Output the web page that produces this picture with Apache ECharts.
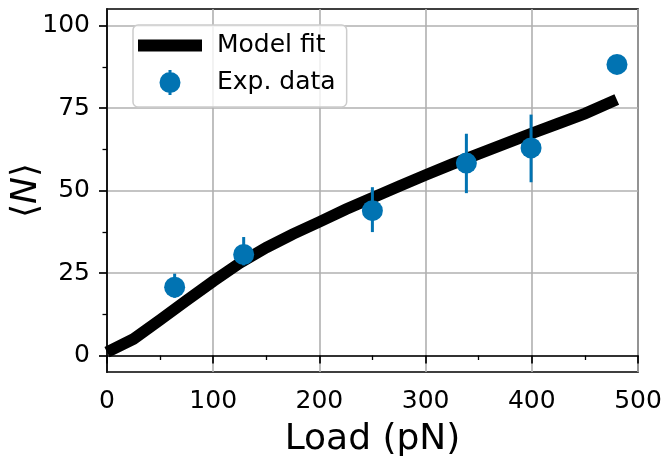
<!DOCTYPE html>
<html>
<head>
<meta charset="utf-8">
<script src="https://cdn.jsdelivr.net/npm/echarts@6/dist/echarts.min.js"></script>
<style>
html, body { margin: 0; padding: 0; background: #fff; }
#chart { width: 666px; height: 458px; }
</style>
</head>
<body>
<div id="chart"></div>
<script>
// Model fit curve
const fitLoad = [0, 25, 50, 75, 100, 125, 150, 175, 200, 225, 250, 275, 300, 325, 350, 375, 400, 425, 450, 480];
const fitN    = [1.0, 5.0, 10.8, 16.7, 22.5, 28.0, 32.7, 36.8, 40.5, 44.3, 47.8, 51.3, 54.7, 58.0, 61.1, 64.2, 67.3, 70.3, 73.3, 77.6];

// Experimental data with error bars
const expLoad = [63.7, 128.7, 249.9, 338.4, 399.3, 480.2];
const expN    = [20.7, 30.6, 43.9, 58.3, 62.9, 88.2];
const expLow  = [17.5, 27.3, 37.4, 49.2, 52.5, 88.2];
const expHigh = [24.8, 35.9, 51.0, 67.2, 73.0, 88.2];

// Axis ticks
const xTicks = [0, 100, 200, 300, 400, 500];
const yTicks = [0, 25, 50, 75, 100];
const yMinorTicks = [12.5, 37.5, 62.5, 87.5];

const BLUE = '#0173B2';
const FONT = 'DejaVu Sans';

const chart = echarts.init(document.getElementById('chart'), null, { renderer: 'canvas' });

const fitData = fitLoad.map((x, i) => [x, fitN[i]]);
const expData = expLoad.map((x, i) => [x, expN[i]]);
const errData = expLoad.map((x, i) => [x, expLow[i], expHigh[i]]);

const option = {
  animation: false,
  backgroundColor: '#fff',
  textStyle: { fontFamily: FONT, color: '#000' },
  grid: {
    left: 107, right: 28, top: 9, bottom: 86,
    containLabel: false, outerBoundsMode: 'none',
    show: true, borderColor: '#000', borderWidth: 1.7, backgroundColor: 'transparent'
  },
  legend: {
    left: 133, top: 25,
    orient: 'vertical',
    padding: [8, 11, 12, 5],
    itemWidth: 74, itemHeight: 25, itemGap: 12,
    backgroundColor: 'rgba(255,255,255,0.8)',
    borderColor: '#cccccc', borderWidth: 1.5, borderRadius: 5,
    textStyle: { fontFamily: FONT, fontSize: 25, color: '#000', lineHeight: 25 },
    symbolKeepAspect: true,
    data: [
      { name: 'Model fit',
        icon: 'path://M0,-6H64V6H0Z M0,-12.5L0.01,-12.5 M74,12.5L73.99,12.5',
        itemStyle: { color: '#000' } },
      { name: 'Exp. data',
        icon: 'path://M-1.5,-12.5h3v25h-3z M10.5,0 A10.5,10.5 0 1,1 -10.5,0 A10.5,10.5 0 1,1 10.5,0z M-32,-12.5L-31.99,-12.5 M42,12.5L41.99,12.5',
        itemStyle: { color: BLUE } }
    ],
    itemStyle: { borderWidth: 0 },
    selectedMode: false
  },
  xAxis: {
    type: 'value', min: 0, max: 500, interval: 100,
    name: 'Load (pN)', nameLocation: 'middle', nameGap: 50, nameMoveOverlap: false,
    nameTextStyle: { fontFamily: FONT, fontSize: 36, color: '#000' },
    axisLine: { show: true, lineStyle: { color: '#000', width: 1.7 } },
    axisTick: { show: true, inside: false, length: 8, lineStyle: { color: '#000', width: 1.7 }, customValues: xTicks },
    minorTick: { show: true, splitNumber: 2, length: 4.5, lineStyle: { color: '#000', width: 1.3 } },
    axisLabel: { fontFamily: FONT, fontSize: 25, color: '#000', margin: 17, customValues: xTicks },
    splitLine: { show: true, lineStyle: { color: '#b0b0b0', width: 1.6 } }
  },
  yAxis: [
    {
      type: 'value', min: -5, max: 105,
      name: '⟨{i|N}⟩', nameLocation: 'middle', nameGap: 62, nameRotate: 90, nameMoveOverlap: false,
      nameTextStyle: { fontFamily: FONT, fontSize: 36, color: '#000', rich: { i: { fontFamily: FONT, fontSize: 36, fontStyle: 'italic', color: '#000' } } },
      axisLine: { show: true, onZero: false, lineStyle: { color: '#000', width: 1.7 } },
      axisTick: { show: true, inside: false, length: 8, lineStyle: { color: '#000', width: 1.7 }, customValues: yTicks },
      axisLabel: { fontFamily: FONT, fontSize: 25, color: '#000', margin: 17, customValues: yTicks },
      splitLine: { show: true, lineStyle: { color: '#b0b0b0', width: 1.6 } }
    },
    {
      type: 'value', min: -5, max: 105, position: 'left',
      axisLine: { show: false },
      axisTick: { show: true, inside: false, length: 4.5, lineStyle: { color: '#000', width: 1.3 }, customValues: yMinorTicks },
      axisLabel: { show: false },
      splitLine: { show: false }
    }
  ],
  series: [
    {
      name: 'Model fit', type: 'line', data: fitData,
      symbol: 'none', showSymbol: false, smooth: false,
      lineStyle: { color: '#000', width: 11.5, cap: 'butt', join: 'miter' },
      itemStyle: { color: '#000' },
      z: 2
    },
    {
      name: 'errbars', type: 'custom', data: errData,
      renderItem: function (params, api) {
        const x = api.value(0);
        const p1 = api.coord([x, api.value(1)]);
        const p2 = api.coord([x, api.value(2)]);
        return {
          type: 'line',
          shape: { x1: p1[0], y1: p1[1], x2: p2[0], y2: p2[1] },
          style: { stroke: BLUE, lineWidth: 3 }
        };
      },
      encode: { x: 0, y: [1, 2] },
      z: 3, silent: true
    },
    {
      name: 'Exp. data', type: 'scatter', data: expData,
      symbol: 'circle', symbolSize: 21,
      itemStyle: { color: BLUE, opacity: 1 },
      z: 4
    }
  ]
};

chart.setOption(option);
</script>
</body>
</html>
